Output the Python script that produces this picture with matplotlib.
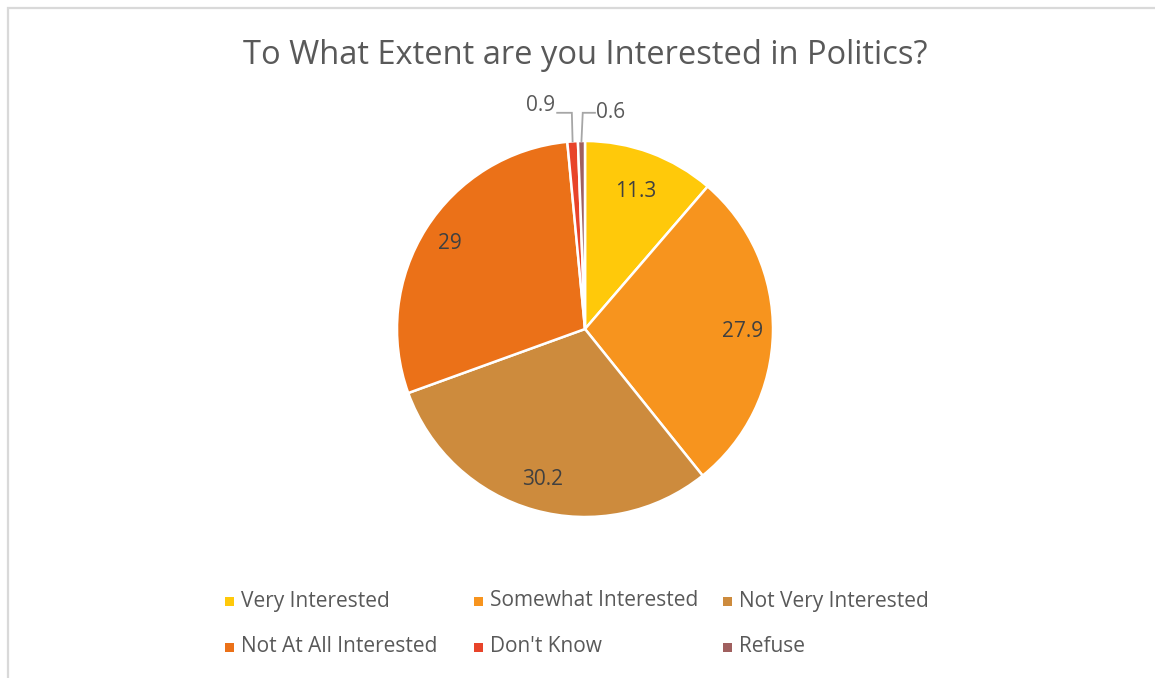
import matplotlib.pyplot as plt
from matplotlib.patches import Rectangle
import numpy as np

plt.rcParams['font.family'] = ['Open Sans', 'DejaVu Sans']

title = 'To What Extent are you Interested in Politics?'
labels = ['Very Interested', 'Somewhat Interested', 'Not Very Interested',
          'Not At All Interested', "Don't Know", 'Refuse']
values = [11.3, 27.9, 30.2, 29, 0.9, 0.6]
value_text = ['11.3', '27.9', '30.2', '29', '0.9', '0.6']
colors = ['#FFC90A', '#F7941E', '#CD8B3D', '#EB7118', '#E8442A', '#A0605F']

W, H = 1155, 678
text_color = '#595959'

fig = plt.figure(figsize=(W / 100, H / 100), dpi=100)

# chart area outline (runs off the right and bottom edges)
fig.patches.append(Rectangle((8 / W, -0.05), 1.1, 1 - 8 / H + 0.05,
                             transform=fig.transFigure, fill=False,
                             edgecolor='#D9D9D9', linewidth=1.6))

cx, cy, r = 585, 329, 188
ax = fig.add_axes([(cx - r) / W, (H - cy - r) / H, 2 * r / W, 2 * r / H])
wedges, _ = ax.pie(values, colors=colors, startangle=90, counterclock=False,
                   radius=1, wedgeprops=dict(edgecolor='white', linewidth=1.8))
ax.set_xlim(-1, 1)
ax.set_ylim(-1, 1)
ax.set_aspect('auto')
ax.axis('off')

# labels inside the big slices
inner_dist = [0.78, 0.84, 0.83, 0.85]
for w, txt, d in zip(wedges[:4], value_text[:4], inner_dist):
    mid = np.deg2rad((w.theta1 + w.theta2) / 2)
    ax.text(d * np.cos(mid), d * np.sin(mid), txt, ha='center', va='center',
            fontsize=15, color='#404040')

# small slices get callouts above the pie
callouts = [(-0.07, 1.15, -0.148, 1.15, 'right', 0.04),
            (-0.012, 1.15, 0.053, 1.15, 'left', 0.0)]
for w, txt, (bx, by, tx, ty, ha, dy) in zip(wedges[4:], value_text[4:], callouts):
    mid = np.deg2rad((w.theta1 + w.theta2) / 2)
    ex, ey = np.cos(mid), np.sin(mid)
    ax.plot([ex, bx, tx], [ey, by, ty], color='#A6A6A6', lw=1.3,
            clip_on=False, solid_joinstyle='miter')
    ax.text(tx + (-0.012 if ha == 'right' else 0.008), ty + dy,
            txt, ha=ha, va='center', fontsize=15, color=text_color)

fig.text(cx / W, 1 - 55 / H, title, ha='center', va='center',
         fontsize=23.5, color=text_color)

# legend, three per row
col_x = [229, 478, 727]
row_y = [601, 647]
for i, (lab, c) in enumerate(zip(labels, colors)):
    x = col_x[i % 3]
    y = row_y[i // 3]
    fig.patches.append(Rectangle(((x - 4.5) / W, (H - y - 4.5) / H), 9 / W, 9 / H,
                                 transform=fig.transFigure, facecolor=c,
                                 edgecolor='none'))
    fig.text((x + 12) / W, 1 - y / H, lab, ha='left', va='center',
             fontsize=15, color=text_color)

fig.savefig('out.png', dpi=100)
